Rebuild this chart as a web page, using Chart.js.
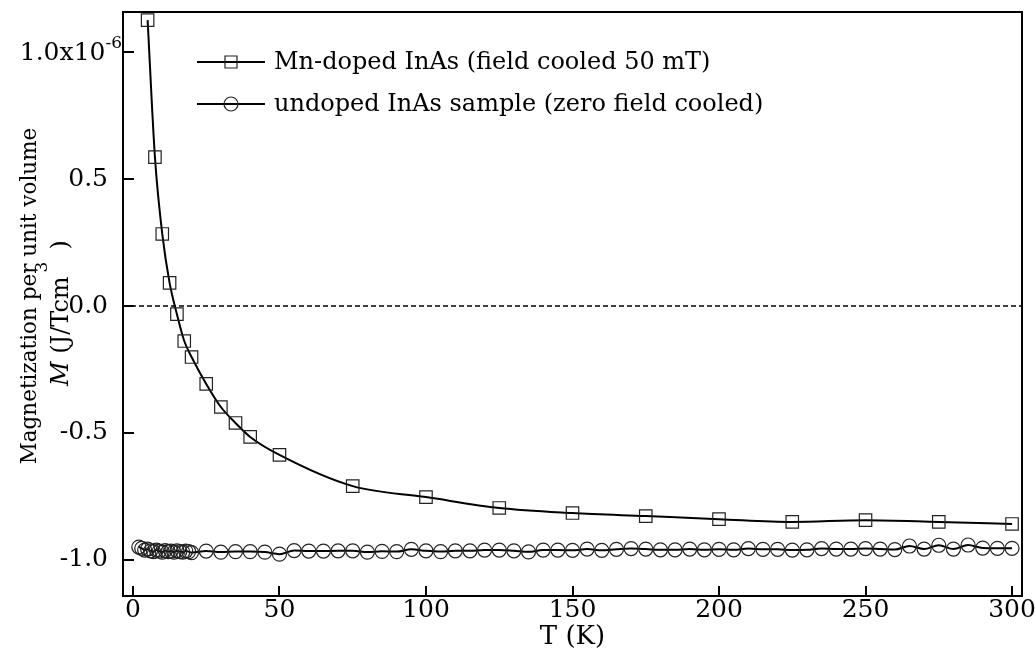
<!DOCTYPE html>
<html><head><meta charset="utf-8">
<script src="https://cdn.jsdelivr.net/npm/chart.js@4"></script>
<style>html,body{margin:0;padding:0;background:#fff}#wrap{width:1035px;height:659px}</style>
</head><body><div id="wrap"><canvas id="c" width="1035" height="659"></canvas></div>
<script>
// Values of M in units of 1e-6 J/(T cm^3)
const tempMn = [5, 7.5, 10, 12.5, 15, 17.5, 20, 25, 30, 35, 40, 50, 75, 100, 125, 150, 175, 200, 225, 250, 275, 300];
const magMn = [1.127, 0.587, 0.284, 0.091, -0.032, -0.138, -0.201, -0.307, -0.398, -0.461, -0.516, -0.587, -0.710, -0.753, -0.796, -0.816, -0.828, -0.840, -0.851, -0.844, -0.851, -0.859];

const tempUndoped = [2,3,4,5,6,7,8,9,10,11,12,13,14,15,16,17,18,19,20,
  25,30,35,40,45,50,55,60,65,70,
  75,80,85,90,95,100,105,110,115,120,
  125,130,135,140,145,150,155,160,165,170,
  175,180,185,190,195,200,205,210,215,220,
  225,230,235,240,245,250,255,260,265,270,
  275,280,285,290,295,300];
const magUndoped = [-0.950,-0.955,-0.962,-0.958,-0.965,-0.968,-0.962,-0.966,-0.970,-0.964,-0.968,-0.966,-0.970,-0.965,-0.968,-0.970,-0.966,-0.968,-0.972,
  -0.966,-0.970,-0.968,-0.968,-0.970,-0.978,-0.964,-0.966,-0.966,-0.965,
  -0.965,-0.970,-0.967,-0.968,-0.959,-0.965,-0.968,-0.965,-0.965,-0.962,
  -0.962,-0.965,-0.969,-0.962,-0.962,-0.963,-0.958,-0.963,-0.959,-0.956,
  -0.958,-0.961,-0.961,-0.958,-0.961,-0.959,-0.961,-0.956,-0.959,-0.959,
  -0.962,-0.961,-0.956,-0.958,-0.958,-0.956,-0.958,-0.960,-0.946,-0.958,
  -0.943,-0.958,-0.942,-0.954,-0.955,-0.955];

const xTickValues = [0, 50, 100, 150, 200, 250, 300];
const yTickValues = [-1.0, -0.5, 0.0, 0.5, 1.0];
const seriesNames = ['Mn-doped InAs (field cooled 50 mT)', 'undoped InAs sample (zero field cooled)'];
const xTitle = 'T (K)';
const yTitleLine1 = 'Magnetization per unit volume';

const FONT = '"DejaVu Serif", serif';
const TICK_SIZE = 25;

const framePlugin = {
  id: 'frame',
  afterDraw(chart) {
    const {ctx, chartArea: a, scales} = chart;
    ctx.save();
    ctx.strokeStyle = '#000';
    // zero reference line
    const y0 = scales.y.getPixelForValue(0);
    ctx.lineWidth = 1.5;
    ctx.setLineDash([5, 3]);
    ctx.beginPath(); ctx.moveTo(a.left, y0); ctx.lineTo(a.right, y0); ctx.stroke();
    ctx.setLineDash([]);
    // frame
    ctx.lineWidth = 2;
    ctx.strokeRect(a.left, a.top, a.right - a.left, a.bottom - a.top);
    // inward ticks
    ctx.beginPath();
    scales.x.ticks.forEach(t => {
      const px = Math.round(scales.x.getPixelForValue(t.value));
      ctx.moveTo(px, a.bottom); ctx.lineTo(px, a.bottom - 10);
    });
    scales.y.ticks.forEach(t => {
      const py = Math.round(scales.y.getPixelForValue(t.value));
      ctx.moveTo(a.left, py); ctx.lineTo(a.left + 11, py);
    });
    ctx.stroke();

    // top y label with exponent
    const yTop = scales.y.getPixelForValue(1.0);
    ctx.fillStyle = '#000';
    ctx.textBaseline = 'middle';
    ctx.font = '17px ' + FONT;
    const supW = ctx.measureText('-6').width;
    const rightEdge = a.left - 1;
    ctx.textAlign = 'left';
    ctx.fillText('-6', rightEdge - supW, yTop - 9);
    ctx.font = TICK_SIZE + 'px ' + FONT;
    ctx.textAlign = 'right';
    ctx.fillText('1.0x10', rightEdge - supW, yTop + 1);

    // legend
    const ds = chart.data.datasets;
    const rows = [62, 104];
    [0, 1].forEach(i => {
      const y = rows[i];
      ctx.lineWidth = 2;
      ctx.strokeStyle = '#000';
      ctx.beginPath(); ctx.moveTo(197, y); ctx.lineTo(265, y); ctx.stroke();
      ctx.lineWidth = 1.2;
      ctx.strokeStyle = '#222';
      ctx.beginPath();
      if (ds[i].pointStyle === 'rect') { ctx.rect(231 - 6, y - 6, 12, 12); }
      else { ctx.arc(231, y, 7, 0, Math.PI * 2); }
      ctx.stroke();
      ctx.fillStyle = '#000';
      ctx.font = '24px ' + FONT;
      ctx.textAlign = 'left';
      ctx.fillText(ds[i].label, 274, y + 1);
    });

    // y title, line 1
    ctx.save();
    ctx.translate(30, 296);
    ctx.rotate(-Math.PI / 2);
    ctx.textAlign = 'center';
    ctx.textBaseline = 'middle';
    ctx.font = '21.5px ' + FONT;
    ctx.fillText(yTitleLine1, 0, 0);
    ctx.restore();

    // y title, line 2: M (J/Tcm^3)
    ctx.save();
    ctx.translate(62, 386);
    ctx.rotate(-Math.PI / 2);
    ctx.textBaseline = 'middle';
    ctx.textAlign = 'left';
    ctx.font = 'italic 24px ' + FONT;
    ctx.fillText('M', 0, 0);
    let x = ctx.measureText('M').width;
    ctx.font = '24px ' + FONT;
    ctx.fillText(' (J/Tcm', x, 0);
    x += ctx.measureText(' (J/Tcm').width;
    ctx.font = '17px ' + FONT;
    ctx.fillText('3', x + 4, -19);
    ctx.font = '24px ' + FONT;
    ctx.fillText(')', x + 27, 0);
    ctx.restore();

    ctx.restore();
  }
};

const noPad = s => { s.paddingTop = 0; s.paddingBottom = 0; s.paddingLeft = 0; s.paddingRight = 0; };

new Chart(document.getElementById('c'), {
  type: 'line',
  data: {
    datasets: [
      {
        label: seriesNames[0],
        data: tempMn.map((t, i) => ({x: t, y: magMn[i]})),
        borderColor: '#000', borderWidth: 2,
        pointStyle: 'rect', pointRadius: 8.8, pointBorderWidth: 1.2,
        pointBorderColor: '#222', pointBackgroundColor: 'rgba(0,0,0,0)',
        cubicInterpolationMode: 'monotone', fill: false
      },
      {
        label: seriesNames[1],
        data: tempUndoped.map((t, i) => ({x: t, y: magUndoped[i]})),
        borderColor: '#000', borderWidth: 2,
        pointStyle: 'circle', pointRadius: 7, pointBorderWidth: 1.2,
        pointBorderColor: '#222', pointBackgroundColor: 'rgba(0,0,0,0)',
        cubicInterpolationMode: 'monotone', fill: false
      }
    ]
  },
  options: {
    responsive: false,
    animation: false,
    devicePixelRatio: 1,
    layout: {padding: {top: 12, right: 13, left: 0, bottom: 0}},
    plugins: {legend: {display: false}, tooltip: {enabled: false}},
    scales: {
      x: {
        type: 'linear', min: -3.4, max: 303.4,
        afterBuildTicks: s => { s.ticks = xTickValues.map(v => ({value: v})); },
        afterFit: s => { s.height = 63; noPad(s); },
        grid: {display: false, drawTicks: false},
        border: {display: false},
        ticks: {color: '#000', font: {family: FONT, size: TICK_SIZE}, padding: -1, maxRotation: 0},
        title: {display: true, text: xTitle, color: '#000', font: {family: FONT, size: 26}, padding: {top: 0, bottom: 6}}
      },
      y: {
        type: 'linear', min: -1.143, max: 1.159,
        afterBuildTicks: s => { s.ticks = yTickValues.map(v => ({value: v})); },
        afterFit: s => { s.width = 123; noPad(s); },
        grid: {display: false, drawTicks: false},
        border: {display: false},
        ticks: {
          color: '#000', font: {family: FONT, size: TICK_SIZE}, padding: 15,
          callback: v => (v === 1 ? '' : v.toFixed(1))
        }
      }
    }
  },
  plugins: [framePlugin]
});
</script></body></html>
